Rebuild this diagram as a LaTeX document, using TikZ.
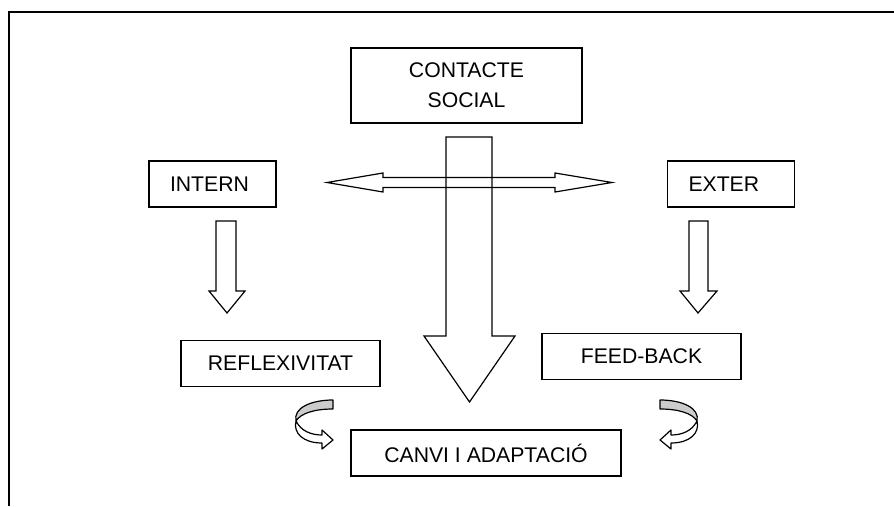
\documentclass[tikz,border=0pt]{standalone}
\usepackage{fontspec}
\setmainfont{Liberation Sans}
\usepackage{tikz}

\tikzset{
  box/.style={draw, line width=1.2pt, inner sep=0pt, align=center,
    font=\fontsize{21.2}{30}\selectfont},
  leftbox/.style={box, align=left, inner xsep=21pt, text width=85pt},
  blockarrow/.style={draw, line width=1.2pt, line join=miter},
  twistarrow/.pic={
    \draw[line width=1.2pt, fill=gray!40, line join=round] (0,0) -- (0,9)
      .. controls (-18,9) and (-32,13) .. (-37,21)
      .. controls (-40,8) and (-22,0) .. (0,0) -- cycle;
    \draw[line width=1.2pt, fill=white, line join=round] (-37,21)
      .. controls (-32,31) and (-22,35) .. (-11,35) -- (-11,30) -- (0,40)
      -- (-11,49) -- (-11,43) .. controls (-30,43) and (-40,33) .. (-37,21) -- cycle;
  }
}

\begin{document}
\begin{tikzpicture}[x=1pt, y=-1pt]
			\useasboundingbox (0,0) rectangle (894,506);
			% Frame
			\draw[line width=1.6pt] (9,506) -- (9,12) -- (894,12);

			% Nodes
			\node[box, minimum width=231pt, minimum height=75pt] (contact) at (466.5,85.5) {CONTACTE\\SOCIAL};
			\node[leftbox, minimum height=46pt] (intern) at (212.5,184) {INTERN};
			\node[leftbox, minimum height=46pt] (exter) at (731,184) {EXTER};
			\node[box, minimum width=199pt, minimum height=46pt] (reflex) at (280.5,363.5) {REFLEXIVITAT};
			\node[box, minimum width=199pt, minimum height=46pt] (feed) at (641.5,356.5) {FEED-BACK};
			\node[box, minimum width=270pt, minimum height=46pt] (canvi) at (486,453) {CANVI I ADAPTACIÓ};

			% Block arrows
			\draw[blockarrow] (446,137) -- (492,137) -- (492,336) -- (515,336) -- (469.5,402) -- (424,336) -- (446,336) -- cycle;
			\draw[blockarrow] (327,182.5) -- (383,173) -- (383,177.5) -- (555,177.5) -- (555,173) -- (612,182.5)
				-- (555,192) -- (555,187.5) -- (383,187.5) -- (383,192) -- cycle;
			\draw[blockarrow] (216,221) -- (236,221) -- (236,291) -- (245,291) -- (227,313) -- (209,291) -- (216,291) -- cycle;
			\draw[blockarrow] (689,221) -- (708,221) -- (708,291) -- (717,291) -- (698,313) -- (680,291) -- (689,291) -- cycle;

			% Curved arrows
			\pic at (333,400) {twistarrow};
			\pic[xscale=-1] at (660,400) {twistarrow};
		\end{tikzpicture}
\end{document}
